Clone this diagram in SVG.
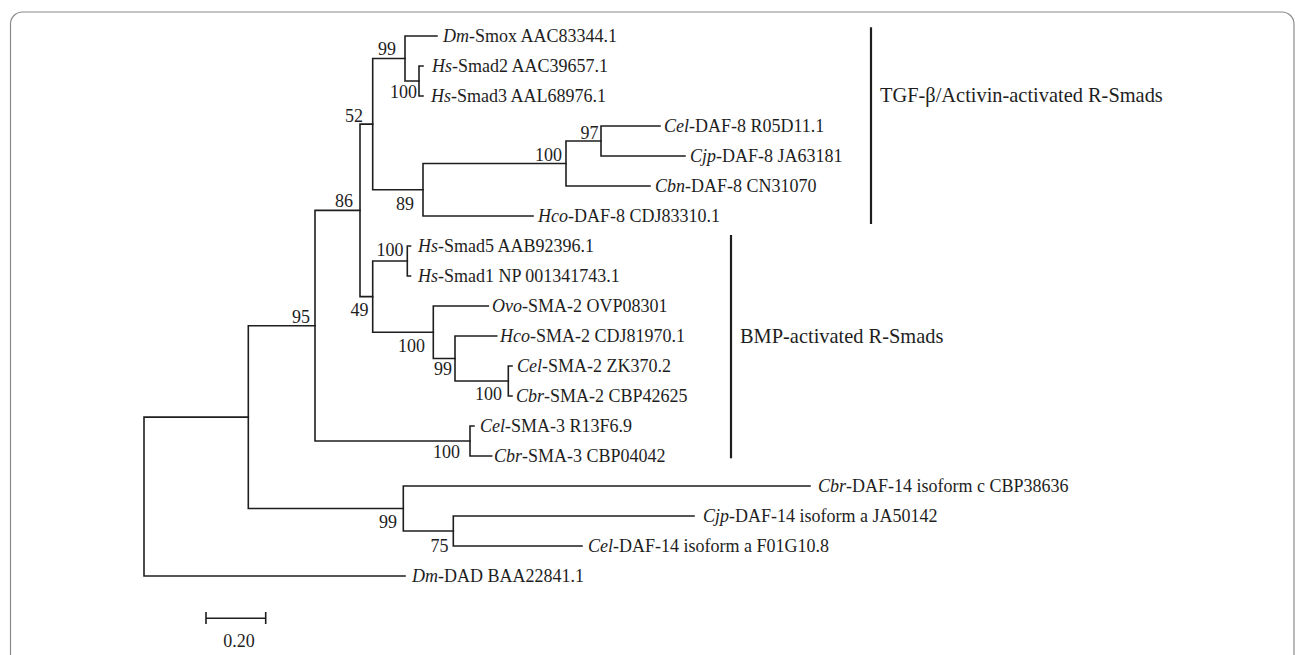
<svg xmlns="http://www.w3.org/2000/svg" width="1295" height="655" viewBox="0 0 1295 655">
<style>
  .br { fill: none; stroke: #1e1e1e; stroke-width: 1.6; stroke-linecap: square; }
  .grp { fill: none; stroke: #1e1e1e; stroke-width: 2.2; }
  text { font-family: 'Liberation Serif', 'DejaVu Serif', serif; fill: #1e1e1e; }
  .lf { font-size: 18px; }
  .bs { font-size: 18px; text-anchor: end; }
  .gl { font-size: 20.4px; }
  .it { font-style: italic; }
</style>
<rect width="1295" height="655" fill="#ffffff"/>
<path d="M10.5 660 V24 A12 12 0 0 1 22.5 12 H1282 A12 12 0 0 1 1294 24 V660" fill="none" stroke="#8a8a8a" stroke-width="1.2"/>

<g id="connectors">
  <path class="br" d="M248.3 417.1 H144 V576 H405"/>
  <path class="br" d="M315 325.7 H248.3 V508.5 H403.3"/>
  <path class="br" d="M360 210.4 H315 V441 H470"/>
  <path class="br" d="M372.7 124.1 H360 V296.6 H372.7"/>
  <path class="br" d="M405 58.5 H372.7 V189.75 H423"/>
  <path class="br" d="M437 36 H405 V81 H419"/>
  <path class="br" d="M423 66 H419 V96 H423"/>
  <path class="br" d="M566 163.5 H423 V216 H533"/>
  <path class="br" d="M601 141 H566 V186 H650"/>
  <path class="br" d="M660 126 H601 V156 H685"/>
  <path class="br" d="M407.3 261 H372.7 V332.25 H433.3"/>
  <path class="br" d="M410.5 246 H407.3 V276 H410.5"/>
  <path class="br" d="M488.3 306 H433.3 V358.5 H455"/>
  <path class="br" d="M496.7 336 H455 V381 H508.3"/>
  <path class="br" d="M512 366 H508.3 V396 H512"/>
  <path class="br" d="M474 426 H470 V456 H491.7"/>
  <path class="br" d="M810 486 H403.3 V531 H453.3"/>
  <path class="br" d="M694 516 H453.3 V546 H582"/>
</g>

<g id="leaves">
  <g id="leaf-dm-smox"><text class="lf" x="443" y="42"><tspan class="it">Dm</tspan>-Smox AAC83344.1</text></g>
  <g id="leaf-hs-smad2"><text class="lf" x="432" y="72"><tspan class="it">Hs</tspan>-Smad2 AAC39657.1</text></g>
  <g id="leaf-hs-smad3"><text class="lf" x="431" y="102"><tspan class="it">Hs</tspan>-Smad3 AAL68976.1</text></g>
  <g id="leaf-cel-daf8"><text class="lf" x="664" y="132"><tspan class="it">Cel</tspan>-DAF-8 R05D11.1</text></g>
  <g id="leaf-cjp-daf8"><text class="lf" x="690" y="162"><tspan class="it">Cjp</tspan>-DAF-8 JA63181</text></g>
  <g id="leaf-cbn-daf8"><text class="lf" x="655" y="192"><tspan class="it">Cbn</tspan>-DAF-8 CN31070</text></g>
  <g id="leaf-hco-daf8"><text class="lf" x="538" y="222"><tspan class="it">Hco</tspan>-DAF-8 CDJ83310.1</text></g>
  <g id="leaf-hs-smad5"><text class="lf" x="418" y="252"><tspan class="it">Hs</tspan>-Smad5 AAB92396.1</text></g>
  <g id="leaf-hs-smad1"><text class="lf" x="418" y="282"><tspan class="it">Hs</tspan>-Smad1 NP 001341743.1</text></g>
  <g id="leaf-ovo-sma2"><text class="lf" x="492" y="312"><tspan class="it">Ovo</tspan>-SMA-2 OVP08301</text></g>
  <g id="leaf-hco-sma2"><text class="lf" x="500" y="342"><tspan class="it">Hco</tspan>-SMA-2 CDJ81970.1</text></g>
  <g id="leaf-cel-sma2"><text class="lf" x="517" y="372"><tspan class="it">Cel</tspan>-SMA-2 ZK370.2</text></g>
  <g id="leaf-cbr-sma2"><text class="lf" x="516" y="402"><tspan class="it">Cbr</tspan>-SMA-2 CBP42625</text></g>
  <g id="leaf-cel-sma3"><text class="lf" x="480" y="432"><tspan class="it">Cel</tspan>-SMA-3 R13F6.9</text></g>
  <g id="leaf-cbr-sma3"><text class="lf" x="494" y="462"><tspan class="it">Cbr</tspan>-SMA-3 CBP04042</text></g>
  <g id="leaf-cbr-daf14"><text class="lf" x="818" y="492"><tspan class="it">Cbr</tspan>-DAF-14 isoform c CBP38636</text></g>
  <g id="leaf-cjp-daf14"><text class="lf" x="703" y="522"><tspan class="it">Cjp</tspan>-DAF-14 isoform a JA50142</text></g>
  <g id="leaf-cel-daf14"><text class="lf" x="588" y="552"><tspan class="it">Cel</tspan>-DAF-14 isoform a F01G10.8</text></g>
  <g id="leaf-dm-dad"><text class="lf" x="412" y="582"><tspan class="it">Dm</tspan>-DAD BAA22841.1</text></g>
</g>

<g id="bootstrap">
  <text class="bs" x="396" y="55">99</text>
  <text class="bs" x="417" y="98">100</text>
  <text class="bs" x="363" y="121.5">52</text>
  <text class="bs" x="353" y="206.5">86</text>
  <text class="bs" x="414" y="210">89</text>
  <text class="bs" x="562" y="161">100</text>
  <text class="bs" x="598.5" y="139">97</text>
  <text class="bs" x="403.5" y="256">100</text>
  <text class="bs" x="368.5" y="316">49</text>
  <text class="bs" x="425" y="351.5">100</text>
  <text class="bs" x="452" y="375">99</text>
  <text class="bs" x="502" y="400">100</text>
  <text class="bs" x="460" y="458">100</text>
  <text class="bs" x="310" y="322.5">95</text>
  <text class="bs" x="397" y="528">99</text>
  <text class="bs" x="448.5" y="551.5">75</text>
</g>

<g id="group-tgf">
  <line class="grp" x1="871" y1="27.3" x2="871" y2="224"/>
  <text class="gl" x="880" y="101.7">TGF-β/Activin-activated R-Smads</text>
</g>
<g id="group-bmp">
  <line class="grp" x1="731" y1="235" x2="731" y2="458.3"/>
  <text class="gl" x="740" y="342.7">BMP-activated R-Smads</text>
</g>

<g id="scale-bar">
  <path class="br" d="M206 618.3 H265.7 M206 612.7 V623.3 M265.7 612.7 V623.3"/>
  <text class="lf" x="239" y="646.5" text-anchor="middle">0.20</text>
</g>
</svg>
